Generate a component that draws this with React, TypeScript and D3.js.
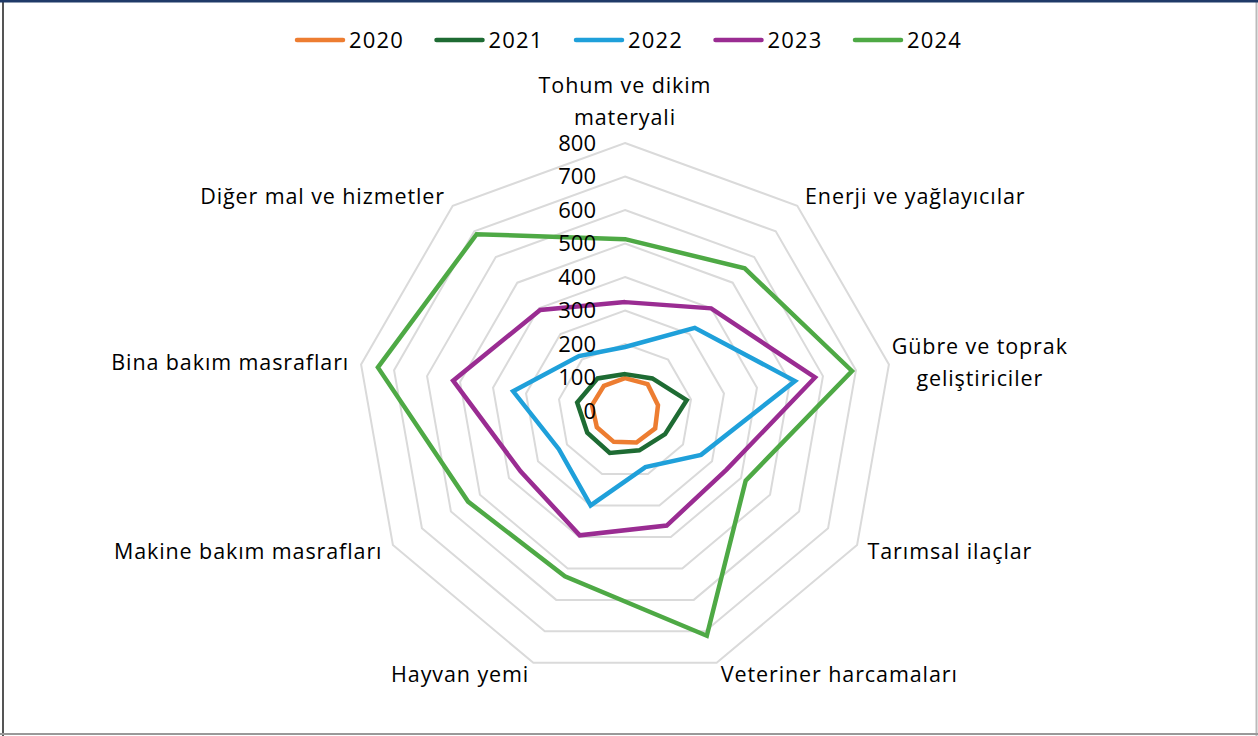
import React, {useRef, useEffect} from 'react';
import * as d3 from 'd3';

const categories: string[][] = [
    ['Tohum ve dikim', 'materyali'],
    ['Enerji ve yağlayıcılar'],
    ['Gübre ve toprak', 'geliştiriciler'],
    ['Tarımsal ilaçlar'],
    ['Veteriner harcamaları'],
    ['Hayvan yemi'],
    ['Makine bakım masrafları'],
    ['Bina bakım masrafları'],
    ['Diğer mal ve hizmetler'],
];

const years = ['2020', '2021', '2022', '2023', '2024'];
const colors = ['#ED7D31', '#1E6B33', '#1FA0DA', '#9A2C92', '#4EA945'];

const v2020 = [98, 105, 100, 104, 100, 98, 97, 100, 98];
const v2021 = [110, 127, 187, 138, 125, 133, 130, 145, 127];
const v2022 = [191, 324, 515, 262, 178, 300, 228, 339, 214];
const v2023 = [325, 400, 576, 350, 364, 395, 360, 521, 394];
const v2024 = [513, 556, 688, 416, 714, 525, 541, 749, 689];
const series = [v2020, v2021, v2022, v2023, v2024];

const ticks = [0, 100, 200, 300, 400, 500, 600, 700, 800];

const W = 1258;
const H = 736;
const FONT = '"Open Sans", "Noto Sans", sans-serif';

const RadarChart: React.FC = () => {
    const ref = useRef<SVGSVGElement | null>(null);

    useEffect(() => {
        if (!ref.current) return;
        const svg = d3.select(ref.current);
        svg.selectAll('*').remove();

        const cx = 625, cy = 411;
        const r = d3.scaleLinear().domain([0, 800]).range([0, 268]);
        const angle = d3.scaleLinear().domain([0, categories.length]).range([0, 2 * Math.PI]);
        const pt = (i: number, v: number): [number, number] =>
            [cx + r(v) * Math.sin(angle(i)), cy - r(v) * Math.cos(angle(i))];

        // frame
        svg.append('rect').attr('x', 0).attr('y', 0).attr('width', W).attr('height', H).attr('fill', '#fff');
        svg.append('line').attr('x1', 3).attr('x2', 3).attr('y1', 0).attr('y2', H).attr('stroke', '#555').attr('stroke-width', 2);
        svg.append('line').attr('x1', W - 1.5).attr('x2', W - 1.5).attr('y1', 0).attr('y2', H).attr('stroke', '#bbb').attr('stroke-width', 2);
        svg.append('line').attr('x1', 0).attr('x2', W).attr('y1', H - 2).attr('y2', H - 2).attr('stroke', '#999').attr('stroke-width', 2);
        svg.append('line').attr('x1', 0).attr('x2', W).attr('y1', 1).attr('y2', 1).attr('stroke', '#1F3A68').attr('stroke-width', 3);

        const g = svg.append('g').attr('font-family', FONT);

        const ring = d3.line<number>()
            .x((d, i) => pt(i, d)[0])
            .y((d, i) => pt(i, d)[1])
            .curve(d3.curveLinearClosed);

        g.selectAll('path.grid')
            .data(ticks.slice(1))
            .join('path')
            .attr('class', 'grid')
            .attr('d', (t) => ring(categories.map(() => t)))
            .attr('fill', 'none')
            .attr('stroke', '#dadada')
            .attr('stroke-width', 2);

        g.selectAll('path.series')
            .data(series)
            .join('path')
            .attr('class', 'series')
            .attr('d', (d) => ring(d))
            .attr('fill', 'none')
            .attr('stroke', (d, i) => colors[i])
            .attr('stroke-width', 4.5)
            .attr('stroke-linejoin', 'miter');

        g.selectAll('text.tick')
            .data(ticks)
            .join('text')
            .attr('class', 'tick')
            .attr('x', cx - 29)
            .attr('y', (t) => cy - r(t))
            .attr('dy', '0.36em')
            .attr('text-anchor', 'end')
            .attr('font-size', 22)
            .attr('fill', '#000')
            .text((t) => t);

        // category labels
        categories.forEach((lines, i) => {
            const a = angle(i);
            const [x, y] = pt(i, 800 + 36);
            const s = Math.sin(a);
            let anchor = 'middle';
            if (s > 0.1) anchor = 'start';
            if (s < -0.1) anchor = 'end';
            const lh = 32;
            let y0 = y - (lines.length - 1) * lh / 2;
            let x0 = x;
            if (i === 0) y0 = y - 46;
            if (lines.length > 1 && i !== 0) { anchor = 'middle'; x0 = x + 79; }
            lines.forEach((ln, k) => {
                g.append('text')
                    .attr('x', x0)
                    .attr('y', y0 + k * lh)
                    .attr('dy', '0.36em')
                    .attr('text-anchor', anchor)
                    .attr('font-size', 21.5)
                    .attr('letter-spacing', 0.9)
                    .attr('fill', '#000')
                    .text(ln);
            });
        });

        // legend
        const lx = d3.scalePoint<string>().domain(years).range([295, 853]);
        const lg = g.selectAll('g.legend')
            .data(years)
            .join('g')
            .attr('class', 'legend')
            .attr('transform', (d) => `translate(${lx(d)},40)`);
        lg.append('line')
            .attr('x1', 2).attr('x2', 48).attr('y1', 0).attr('y2', 0)
            .attr('stroke', (d, i) => colors[i])
            .attr('stroke-width', 4.5)
            .attr('stroke-linecap', 'round');
        lg.append('text')
            .attr('x', 54)
            .attr('dy', '0.36em')
            .attr('font-size', 22)
            .attr('letter-spacing', 1.2)
            .attr('fill', '#000')
            .text((d) => d);
    }, []);

    return <svg ref={ref} width={W} height={H} style={{position: 'absolute', left: 0, top: 0}}></svg>;
};

export default function App() {
    return <RadarChart/>;
}
